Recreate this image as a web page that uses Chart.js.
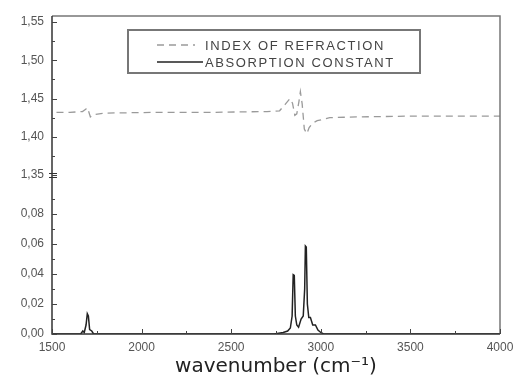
<!DOCTYPE html>
<html>
<head>
<meta charset="utf-8">
<script src="https://cdn.jsdelivr.net/npm/chart.js@4.4.0/dist/chart.umd.min.js"></script>
<style>
  html, body { margin: 0; padding: 0; background: #fff; }
</style>
</head>
<body>
<canvas id="grafico" width="524" height="385"></canvas>
<script>
// DATOS //
const refWavenumber = [1525, 1600, 1670, 1688, 1697, 1706, 1714, 1730, 1800, 2100, 2400, 2700, 2770, 2800, 2828, 2842, 2855, 2866, 2878, 2886, 2896, 2908, 2922, 2935, 2955, 2980, 3050, 3200, 3500, 4000];
const refIndex = [1.432, 1.432, 1.433, 1.436, 1.438, 1.432, 1.426, 1.429, 1.431, 1.432, 1.432, 1.433, 1.434, 1.442, 1.450, 1.444, 1.428, 1.430, 1.446, 1.459, 1.443, 1.410, 1.404, 1.412, 1.418, 1.421, 1.425, 1.426, 1.427, 1.427];

const absWavenumber = [1500, 1660, 1672, 1680, 1690, 1697, 1703, 1710, 1722, 1732, 2740, 2790, 2815, 2830, 2840, 2846, 2852, 2858, 2866, 2876, 2890, 2902, 2910, 2914, 2919, 2925, 2933, 2942, 2955, 2970, 2984, 3000, 3015, 4000];
const absConstant = [0, 0, 0.002, 0.001, 0.006, 0.0135, 0.012, 0.003, 0.002, 0, 0, 0.001, 0.002, 0.004, 0.012, 0.0395, 0.039, 0.012, 0.006, 0.0045, 0.010, 0.012, 0.030, 0.0587, 0.058, 0.020, 0.011, 0.011, 0.006, 0.006, 0.0026, 0.001, 0, 0];

const xTicks = [1500, 2000, 2500, 3000, 3500, 4000];
const refTicks = [1.35, 1.40, 1.45, 1.50, 1.55];
const absTicks = [0, 0.02, 0.04, 0.06, 0.08];
const legendLabels = ['INDEX OF REFRACTION', 'ABSORPTION CONSTANT'];

function puntos(xs, ys) {
    return xs.map((x, i) => ({ x: x, y: ys[i] }));
}

function formato(v) {
    return v.toFixed(2).replace('.', ',');
}

// mitad entre ticks mayores, para las marcas chicas
function medios(valores) {
    const out = [];
    for (let i = 0; i < valores.length - 1; i++) {
        out.push((valores[i] + valores[i + 1]) / 2);
    }
    return out;
}

const fuenteTicks = { family: 'Liberation Sans', size: 12 };
const sinGrilla = { display: false, drawTicks: false, tickLength: 0 };

// marco, marcas hacia adentro, quiebre del eje y leyenda
const marcoPlugin = {
    id: 'marco',
    afterDraw(chart) {
        const ctx = chart.ctx;
        const a = chart.chartArea;
        const sx = chart.scales.x;
        const sr = chart.scales.yRef;
        const sa = chart.scales.yAbs;
        ctx.save();

        ctx.lineWidth = 1.5;
        ctx.strokeStyle = '#777';
        ctx.beginPath();
        ctx.moveTo(a.left, a.top);
        ctx.lineTo(a.right, a.top);
        ctx.lineTo(a.right, a.bottom);
        ctx.stroke();
        ctx.strokeStyle = '#333';
        ctx.beginPath();
        ctx.moveTo(a.left, a.top);
        ctx.lineTo(a.left, a.bottom);
        ctx.lineTo(a.right, a.bottom);
        ctx.stroke();

        ctx.lineWidth = 1;
        ctx.strokeStyle = '#444';
        function marcasX(valores, largo) {
            valores.forEach(v => {
                const px = Math.round(sx.getPixelForValue(v)) + 0.5;
                ctx.beginPath();
                ctx.moveTo(px, a.bottom);
                ctx.lineTo(px, a.bottom - largo);
                ctx.stroke();
            });
        }
        function marcasY(scale, valores, largo) {
            valores.forEach(v => {
                const py = Math.round(scale.getPixelForValue(v)) + 0.5;
                ctx.beginPath();
                ctx.moveTo(a.left, py);
                ctx.lineTo(a.left + largo, py);
                ctx.stroke();
            });
        }
        marcasX(xTicks, 5);
        marcasX(medios(xTicks), 3);
        marcasY(sr, refTicks, 5);
        marcasY(sr, medios(refTicks), 3);
        marcasY(sa, absTicks, 5);
        marcasY(sa, medios(absTicks).concat([0.09]), 3);

        // quiebre "=" en el eje
        ctx.strokeStyle = '#333';
        [-2, 2].forEach(d => {
            const py = Math.round(sr.bottom + d) + 0.5;
            ctx.beginPath();
            ctx.moveTo(a.left - 3, py);
            ctx.lineTo(a.left + 5, py);
            ctx.stroke();
        });

        // leyenda dentro del area
        const lx = a.left + 76;
        const ly = a.top + 14;
        ctx.fillStyle = '#fff';
        ctx.fillRect(lx, ly, 292, 43);
        ctx.strokeStyle = '#777';
        ctx.lineWidth = 2;
        ctx.strokeRect(lx, ly, 292, 43);
        ctx.font = '13px "Liberation Sans"';
        if ('letterSpacing' in ctx) ctx.letterSpacing = '1.6px';
        ctx.textBaseline = 'middle';
        ctx.fillStyle = '#444';
        chart.data.datasets.forEach((ds, i) => {
            const yy = ly + 15 + i * 17;
            ctx.strokeStyle = ds.borderColor;
            ctx.lineWidth = ds.borderWidth;
            ctx.setLineDash(ds.borderDash || []);
            ctx.beginPath();
            ctx.moveTo(lx + 29, yy);
            ctx.lineTo(lx + (i === 0 ? 67 : 75), yy);
            ctx.stroke();
            ctx.setLineDash([]);
            ctx.fillText(legendLabels[i], lx + 77, yy + 1);
        });
        ctx.restore();
    }
};

const ctx = document.getElementById('grafico').getContext('2d');
const grafico = new Chart(ctx, {
    type: 'line',
    data: {
        datasets: [
            {
                label: legendLabels[0],
                data: puntos(refWavenumber, refIndex),
                yAxisID: 'yRef',
                borderColor: '#9a9a9a',
                borderWidth: 1.3,
                borderDash: [7, 5],
                pointRadius: 0,
                fill: false,
                tension: 0
            },
            {
                label: legendLabels[1],
                data: puntos(absWavenumber, absConstant),
                yAxisID: 'yAbs',
                borderColor: '#222',
                borderWidth: 1.5,
                pointRadius: 0,
                fill: false,
                tension: 0
            }
        ]
    },
    options: {
        responsive: false,
        animation: false,
        devicePixelRatio: 1,
        layout: { padding: { top: 16, right: 24, left: 0, bottom: 0 } },
        plugins: {
            legend: { display: false },
            tooltip: { enabled: false }
        },
        scales: {
            x: {
                type: 'linear',
                min: 1500,
                max: 4000,
                afterBuildTicks: s => { s.ticks = xTicks.map(v => ({ value: v })); },
                afterFit: s => { s.height = 51; },
                grid: sinGrilla,
                border: { display: false },
                ticks: { color: '#555', font: fuenteTicks, padding: 6, maxRotation: 0, autoSkip: false, callback: v => String(v) },
                title: {
                    display: true,
                    text: 'wavenumber (cm⁻¹)',
                    color: '#222',
                    font: { family: 'DejaVu Sans', size: 20 },
                    padding: { top: 0, bottom: 6 }
                }
            },
            yAbs: {
                type: 'linear',
                position: 'left',
                stack: 'y',
                stackWeight: 1,
                min: 0,
                max: 0.106,
                afterBuildTicks: s => { s.ticks = absTicks.map(v => ({ value: v })); },
                afterFit: s => { s.width = 52; },
                grid: sinGrilla,
                border: { display: false },
                ticks: { color: '#555', font: fuenteTicks, padding: 8, callback: v => formato(v) }
            },
            yRef: {
                type: 'linear',
                position: 'left',
                stack: 'y',
                stackWeight: 1,
                min: 1.35,
                max: 1.558,
                afterBuildTicks: s => { s.ticks = refTicks.map(v => ({ value: v })); },
                afterFit: s => { s.width = 52; },
                grid: sinGrilla,
                border: { display: false },
                ticks: { color: '#555', font: fuenteTicks, padding: 8, callback: v => formato(v) }
            }
        }
    },
    plugins: [marcoPlugin]
});
</script>
</body>
</html>
